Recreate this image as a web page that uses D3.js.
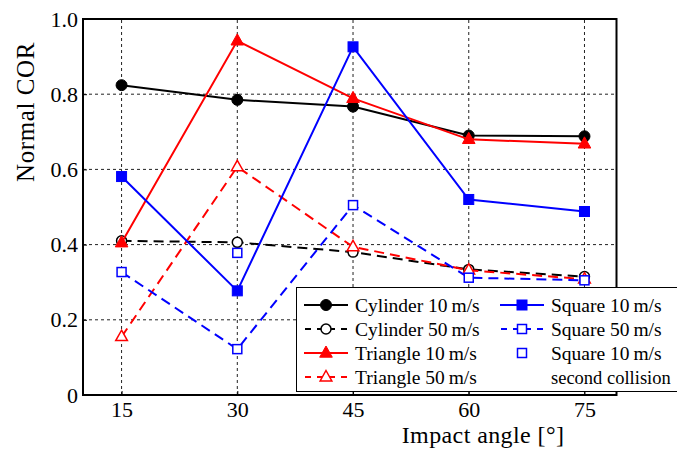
<!DOCTYPE html>
<html>
<head>
<meta charset="utf-8">
<script src="https://cdn.jsdelivr.net/npm/d3@7"></script>
<style>
  html, body { margin: 0; padding: 0; background: #fff; }
  svg { display: block; }
  .serif { font-family: "Liberation Serif", serif; }
</style>
</head>
<body>
<script>
// Impact angles (degrees) and normal coefficient of restitution per shape/speed
const angles = [15, 30, 45, 60, 75];
const cylinder10 = [0.824, 0.785, 0.767, 0.690, 0.688];
const cylinder50 = [0.410, 0.406, 0.380, 0.334, 0.315];
const triangle10 = [0.405, 0.942, 0.789, 0.680, 0.668];
const triangle50 = [0.155, 0.607, 0.394, 0.332, 0.308];
const square10 = [0.581, 0.277, 0.926, 0.520, 0.488];
const square50 = [0.327, 0.122, 0.505, 0.312, 0.305];
const square10SecondAngles = [30];
const square10Second = [0.378];

const xTicks = [15, 30, 45, 60, 75];
const yTicks = [0, 0.2, 0.4, 0.6, 0.8, 1.0];
const yTickLabels = ["0", "0.2", "0.4", "0.6", "0.8", "1.0"];

const series = [
  { name: "Cylinder 10\u2009m/s", values: cylinder10, color: "#000", dash: "none", marker: "circle", filled: true },
  { name: "Cylinder 50\u2009m/s", values: cylinder50, color: "#000", dash: "10,6", marker: "circle", filled: false },
  { name: "Triangle 10\u2009m/s", values: triangle10, color: "#ff0000", dash: "none", marker: "triangle", filled: true },
  { name: "Triangle 50\u2009m/s", values: triangle50, color: "#ff0000", dash: "10,6", marker: "triangle", filled: false },
  { name: "Square 10\u2009m/s", values: square10, color: "#0000ff", dash: "none", marker: "square", filled: true },
  { name: "Square 50\u2009m/s", values: square50, color: "#0000ff", dash: "10,6", marker: "square", filled: false }
];

const W = 677, H = 450;
const FONT = "'Liberation Serif', serif";
const svg = d3.select("body").append("svg").attr("width", W).attr("height", H)
  .attr("class", "serif").style("font-family", FONT);

const x = d3.scaleLinear().domain([10, 79.15]).range([83, 616.5]);
const y = d3.scaleLinear().domain([0, 1]).range([395, 19]);

// grid
const grid = svg.append("g").attr("stroke", "#222").attr("stroke-width", 1).attr("stroke-dasharray", "3,3");
grid.selectAll("line.v").data(xTicks).join("line")
  .attr("x1", d => x(d)).attr("x2", d => x(d)).attr("y1", y(0)).attr("y2", y(1));
grid.selectAll("line.h").data(yTicks.filter(d => d > 0 && d < 1)).join("line")
  .attr("x1", x.range()[0]).attr("x2", x.range()[1]).attr("y1", d => y(d)).attr("y2", d => y(d));

// axes
const xAxis = d3.axisBottom(x).tickValues(xTicks).tickSizeInner(-4).tickSizeOuter(0).tickPadding(6);
const yAxis = d3.axisLeft(y).tickValues(yTicks).tickFormat((d, i) => yTickLabels[i]).tickSizeInner(-4).tickSizeOuter(0).tickPadding(5);
const gx = svg.append("g").attr("transform", `translate(0,${y(0)})`).call(xAxis);
const gy = svg.append("g").attr("transform", `translate(${x.range()[0]},0)`).call(yAxis);
[gx, gy].forEach(g => {
  g.select(".domain").remove();
  g.attr("font-size", 22).attr("font-family", FONT);
  g.selectAll("line").attr("stroke", "#000");
});

// frame
svg.append("rect")
  .attr("x", x.range()[0]).attr("y", y(1))
  .attr("width", x.range()[1] - x.range()[0]).attr("height", y(0) - y(1))
  .attr("fill", "none").attr("stroke", "#000").attr("stroke-width", 2);

// marker drawing
function drawMarker(g, type, cx, cy, color, filled) {
  const fill = filled ? color : "#fff";
  const sw = filled ? 1 : 1.5;
  if (type === "circle") {
    g.append("circle").attr("cx", cx).attr("cy", cy).attr("r", filled ? 5.5 : 5)
      .attr("fill", fill).attr("stroke", color).attr("stroke-width", sw);
  } else if (type === "square") {
    const s = filled ? 10 : 9;
    g.append("rect").attr("x", cx - s / 2).attr("y", cy - s / 2).attr("width", s).attr("height", s)
      .attr("fill", fill).attr("stroke", color).attr("stroke-width", sw);
  } else {
    const r = filled ? 7 : 6.5;
    const pts = [[cx, cy - r], [cx + r * 0.9, cy + r * 0.6], [cx - r * 0.9, cy + r * 0.6]];
    g.append("path").attr("d", "M" + pts.map(p => p.join(",")).join("L") + "Z")
      .attr("fill", fill).attr("stroke", color).attr("stroke-width", sw).attr("stroke-linejoin", "miter");
  }
}

const line = d3.line().x(d => x(d[0])).y(d => y(d[1]));
const plot = svg.append("g");
series.forEach(s => {
  const pts = angles.map((a, i) => [a, s.values[i]]);
  plot.append("path").datum(pts).attr("d", line)
    .attr("fill", "none").attr("stroke", s.color).attr("stroke-width", 2)
    .attr("stroke-dasharray", s.dash);
  const mg = plot.append("g");
  pts.forEach(p => drawMarker(mg, s.marker, x(p[0]), y(p[1]), s.color, s.filled));
});
const sc = plot.append("g");
square10SecondAngles.forEach((a, i) => drawMarker(sc, "square", x(a), y(square10Second[i]), "#0000ff", false));

// legend
const lg = svg.append("g");
lg.append("rect").attr("x", 296.5).attr("y", 287.5).attr("width", 390).attr("height", 104)
  .attr("fill", "#fff").attr("stroke", "#000").attr("stroke-width", 1);
const rows = [305, 329, 353, 377];
const legendItems = [
  { s: series[0], col: 0, row: 0 },
  { s: series[1], col: 0, row: 1 },
  { s: series[2], col: 0, row: 2 },
  { s: series[3], col: 0, row: 3 },
  { s: series[4], col: 1, row: 0 },
  { s: series[5], col: 1, row: 1 }
];
const cols = [{ x0: 304, x1: 348, tx: 355 }, { x0: 500, x1: 544, tx: 551 }];
const legendFont = 19.5;
legendItems.forEach(it => {
  const c = cols[it.col], ry = rows[it.row];
  lg.append("line").attr("x1", c.x0).attr("x2", c.x1).attr("y1", ry).attr("y2", ry)
    .attr("stroke", it.s.color).attr("stroke-width", 2)
    .attr("stroke-dasharray", it.s.dash === "none" ? "none" : "6,6")
    .attr("stroke-dashoffset", it.s.dash === "none" ? 0 : -1);
  drawMarker(lg, it.s.marker, (c.x0 + c.x1) / 2, ry, it.s.color, it.s.filled);
  lg.append("text").attr("x", c.tx).attr("y", ry + 6.5).attr("font-size", legendFont).text(it.s.name);
});
drawMarker(lg, "square", (cols[1].x0 + cols[1].x1) / 2, rows[2], "#0000ff", false);
lg.append("text").attr("x", cols[1].tx).attr("y", rows[2] + 6.5).attr("font-size", legendFont).text("Square 10\u2009m/s");
lg.append("text").attr("x", cols[1].tx).attr("y", rows[3] + 6.5).attr("font-size", 18.5).text("second collision");

// axis titles
svg.append("text").attr("x", 483).attr("y", 443).attr("text-anchor", "middle")
  .attr("font-size", 24).attr("letter-spacing", 0.4).text("Impact angle [\u00b0]");
svg.append("text").attr("transform", "translate(34,112) rotate(-90)").attr("text-anchor", "middle")
  .attr("font-size", 25).attr("letter-spacing", 0.6).text("Normal COR");

// every label in the serif face, black
svg.selectAll("text").attr("class", "serif").style("font-family", FONT).attr("fill", "#000");
</script>
</body>
</html>
